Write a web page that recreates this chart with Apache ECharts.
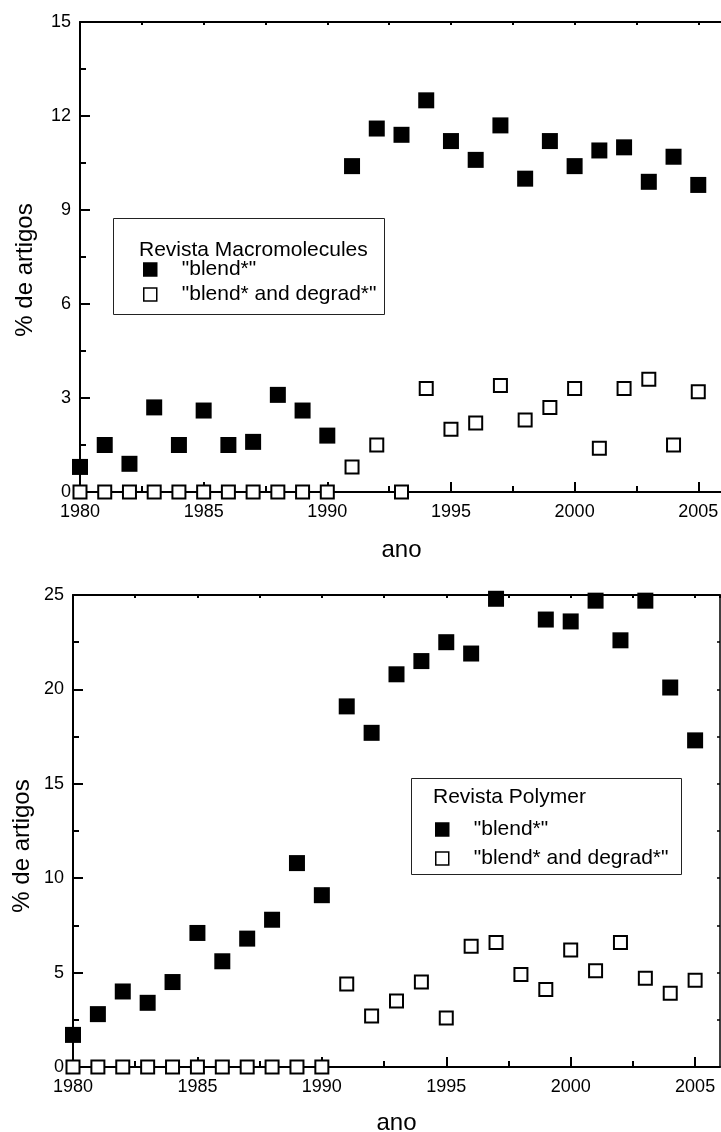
<!DOCTYPE html>
<html>
<head>
<meta charset="utf-8">
<script src="https://cdn.jsdelivr.net/npm/echarts@6/dist/echarts.min.js"></script>
<style>
html,body{margin:0;padding:0;background:#fff;}
#chart{width:721px;height:1132px;}
</style>
</head>
<body>
<div id="chart"></div>
<script>
// ---- data ----
const years = [1980,1981,1982,1983,1984,1985,1986,1987,1988,1989,1990,1991,1992,1993,1994,1995,1996,1997,1998,1999,2000,2001,2002,2003,2004,2005];
const macroBlend  = [0.8,1.5,0.9,2.7,1.5,2.6,1.5,1.6,3.1,2.6,1.8,10.4,11.6,11.4,12.5,11.2,10.6,11.7,10.0,11.2,10.4,10.9,11.0,9.9,10.7,9.8];
const macroDegrad = [0,0,0,0,0,0,0,0,0,0,0,0.8,1.5,0,3.3,2.0,2.2,3.4,2.3,2.7,3.3,1.4,3.3,3.6,1.5,3.2];
const polyBlend   = [1.7,2.8,4.0,3.4,4.5,7.1,5.6,6.8,7.8,10.8,9.1,19.1,17.7,20.8,21.5,22.5,21.9,24.8,null,23.7,23.6,24.7,22.6,24.7,20.1,17.3];
const polyDegrad  = [0,0,0,0,0,0,0,0,0,0,0,4.4,2.7,3.5,4.5,2.6,6.4,6.6,4.9,4.1,6.2,5.1,6.6,4.7,3.9,4.6];
const xMajorTicks = [1980,1985,1990,1995,2000,2005];
const xMinorTicks = [1982.5,1987.5,1992.5,1997.5,2002.5];
const seriesNames = ['"blend*"','"blend* and degrad*"'];
const legendTitles = ['Revista Macromolecules','Revista Polymer'];
const xTitle = 'ano';
const yTitle = '% de artigos';

const FONT = "'Liberation Sans', Arial, Helvetica, sans-serif";
const pairs = (vals) => years.map((y,i) => [y, vals[i]]).filter(p => p[1] !== null);
const plain = (v) => String(v);

function bottomAxes(gi, gap){
  return [
    { gridIndex: gi, type:'value', position:'bottom', min:1980, max:2006,
      name: xTitle, nameLocation:'middle', nameGap: gap,
      nameTextStyle:{fontFamily:FONT,fontSize:24,color:'#000'},
      axisLine:{show:true,onZero:false,lineStyle:{color:'#000',width:2}},
      axisTick:{show:true,inside:true,length:10,customValues:xMajorTicks,lineStyle:{color:'#000',width:2}},
      axisLabel:{show:true,customValues:xMajorTicks,formatter:plain,margin:11,fontFamily:FONT,fontSize:18,color:'#000'},
      splitLine:{show:false} },
    { gridIndex: gi, type:'value', position:'bottom', min:1980, max:2006,
      axisLine:{show:false,onZero:false},
      axisTick:{show:true,inside:true,length:6,customValues:xMinorTicks,lineStyle:{color:'#000',width:2}},
      axisLabel:{show:false}, splitLine:{show:false} },
    { gridIndex: gi, type:'value', position:'top', min:1980, max:2006, interval:2.5,
      axisLine:{show:true,onZero:false,lineStyle:{color:'#000',width:2}},
      axisTick:{show:true,inside:true,length:3,lineStyle:{color:'#000',width:2}},
      axisLabel:{show:false}, splitLine:{show:false} }
  ];
}

function legendBox(left, top, gap){
  return { data:seriesNames, orient:'vertical', left:left, top:top, itemWidth:13, itemHeight:13, itemGap:gap,
    selectedMode:false, itemStyle:{borderWidth:1.5, borderColor:'#000', opacity:1},
    textStyle:{fontFamily:FONT,fontSize:21,color:'#000',padding:[0,0,0,20]} };
}

const option = {
  animation:false,
  backgroundColor:'#fff',
  grid:[
    {left:80, top:22, width:643, height:470, outerBoundsMode:'none', containLabel:false},
    {left:73, top:595, width:647, height:472, outerBoundsMode:'none', containLabel:false}
  ],
  xAxis: bottomAxes(0, 46).concat(bottomAxes(1, 44)),
  yAxis: [
    { gridIndex:0, type:'value', min:0, max:15, interval:3, position:'left',
      axisLine:{show:true,onZero:false,lineStyle:{color:'#000',width:2}},
      axisTick:{show:true,inside:true,length:10,lineStyle:{color:'#000',width:2}},
      minorTick:{show:true,splitNumber:2,length:6,lineStyle:{color:'#000',width:2}},
      axisLabel:{margin:9,fontFamily:FONT,fontSize:18,color:'#000'},
      splitLine:{show:false} },
    { gridIndex:1, type:'value', min:0, max:25, interval:5, position:'left',
      axisLine:{show:true,onZero:false,lineStyle:{color:'#000',width:2}},
      axisTick:{show:true,inside:true,length:10,lineStyle:{color:'#000',width:2}},
      minorTick:{show:true,splitNumber:2,length:6,lineStyle:{color:'#000',width:2}},
      axisLabel:{margin:9,fontFamily:FONT,fontSize:18,color:'#000'},
      splitLine:{show:false} },
    { gridIndex:1, type:'value', min:0, max:25, interval:2.5, position:'right',
      axisLine:{show:true,onZero:false,lineStyle:{color:'#000',width:1.5}},
      axisTick:{show:true,inside:true,length:3,lineStyle:{color:'#000',width:1.5}},
      axisLabel:{show:false}, splitLine:{show:false} }
  ],
  legend:[ legendBox(138, 254, 4), legendBox(430, 814, 8) ],
  graphic:[
    { type:'rect', shape:{x:113.5,y:218.5,width:271,height:96}, style:{fill:'none',stroke:'#222',lineWidth:1}, z:0 },
    { type:'text', x:139, y:250, style:{text:legendTitles[0],font:'21px '+FONT,fill:'#000',textVerticalAlign:'middle'} },
    { type:'rect', shape:{x:411.5,y:778.5,width:270,height:96}, style:{fill:'none',stroke:'#222',lineWidth:1}, z:0 },
    { type:'text', x:433, y:797, style:{text:legendTitles[1],font:'21px '+FONT,fill:'#000',textVerticalAlign:'middle'} },
    { type:'text', x:25, y:270, rotation:Math.PI/2, style:{text:yTitle,font:'24px '+FONT,fill:'#000',textAlign:'center',textVerticalAlign:'middle'} },
    { type:'text', x:22, y:846, rotation:Math.PI/2, style:{text:yTitle,font:'24px '+FONT,fill:'#000',textAlign:'center',textVerticalAlign:'middle'} }
  ],
  series:[
    { name:seriesNames[0], type:'scatter', xAxisIndex:0, yAxisIndex:0, data:pairs(macroBlend),
      symbol:'rect', symbolSize:16, clip:false, itemStyle:{color:'#000',borderColor:'#000',borderWidth:0,opacity:1} },
    { name:seriesNames[1], type:'scatter', xAxisIndex:0, yAxisIndex:0, data:pairs(macroDegrad),
      symbol:'rect', symbolSize:13, clip:false, itemStyle:{color:'#fff',borderColor:'#000',borderWidth:2,opacity:1} },
    { name:seriesNames[0], type:'scatter', xAxisIndex:3, yAxisIndex:1, data:pairs(polyBlend),
      symbol:'rect', symbolSize:16, clip:false, itemStyle:{color:'#000',borderColor:'#000',borderWidth:0,opacity:1} },
    { name:seriesNames[1], type:'scatter', xAxisIndex:3, yAxisIndex:1, data:pairs(polyDegrad),
      symbol:'rect', symbolSize:13, clip:false, itemStyle:{color:'#fff',borderColor:'#000',borderWidth:2,opacity:1} }
  ]
};
const chart = echarts.init(document.getElementById('chart'), null, {renderer:'canvas'});
chart.setOption(option);
</script>
</body>
</html>
